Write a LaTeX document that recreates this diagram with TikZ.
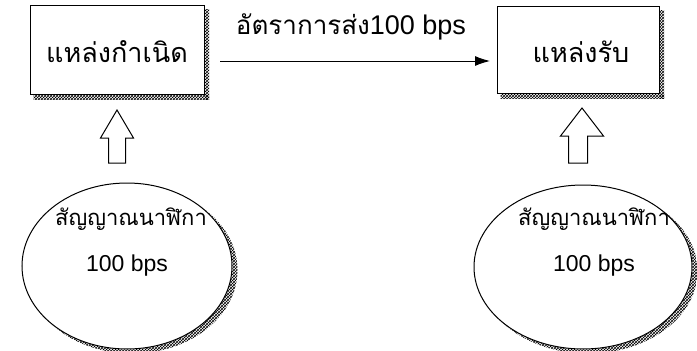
\documentclass[tikz,border=0pt]{standalone}
\usepackage{fontspec}
\setmainfont{Liberation Sans}
\newfontfamily\thaifont[Script=Thai]{Loma}
\usetikzlibrary{arrows.meta,shapes.geometric,patterns}
\begin{document}
\begin{tikzpicture}[x=1pt,y=-1pt,
  box/.style={draw,line width=1pt,fill=white,inner sep=0pt},
  oval/.style={draw,line width=1pt,fill=white,ellipse,inner sep=0pt},
  blk/.style={draw,line width=1pt,fill=white,line join=miter},
  shadowfill/.style={pattern=crosshatch,pattern color=black}]
\useasboundingbox (0,0) rectangle (697,351);
% boxes
\node[box,minimum width=174pt,minimum height=89pt] (src) at (117,50) {};
\node[box,minimum width=162pt,minimum height=87pt] (dst) at (578,50) {};
% box shadows (right and bottom strips)
\path[shadowfill] ([xshift=0.5pt,yshift=-4pt]src.north east) rectangle ([xshift=4.5pt,yshift=-4.5pt]src.south east);
\path[shadowfill] ([xshift=4pt,yshift=-0.5pt]src.south west) rectangle ([xshift=4.5pt,yshift=-4.5pt]src.south east);
\path[shadowfill] ([xshift=0.5pt,yshift=-4pt]dst.north east) rectangle ([xshift=4.5pt,yshift=-4.5pt]dst.south east);
\path[shadowfill] ([xshift=4pt,yshift=-0.5pt]dst.south west) rectangle ([xshift=4.5pt,yshift=-4.5pt]dst.south east);
\node[font=\thaifont\fontsize{27}{30}\selectfont] (srct) at (117,52) {แหล่งกำเนิด};
\node[font=\thaifont\fontsize{27}{30}\selectfont] (dstt) at (581,52) {แหล่งรับ};
% main arrow
\coordinate (a1) at (220,61);
\coordinate (a2) at (490,61);
\draw[line width=1pt,-{Latex[length=15pt,width=10pt]}] (a1) -- (a2);
\node[font=\thaifont\fontsize{26}{30}\selectfont] (rate) at (351,27) {อัตราการส่ง\fontspec{Liberation Sans}\fontsize{27}{30}\selectfont100 bps};
% ellipses
\node[oval,minimum width=210pt,minimum height=166pt] (clk1) at (127,266) {};
\node[oval,minimum width=218pt,minimum height=164pt] (clk2) at (583,267) {};
% ellipse shadows (crescent at lower right)
\begin{scope}
\clip (132,270) ellipse [x radius=105.5, y radius=83.5];
\path[shadowfill,even odd rule] (0,0) rectangle (697,351) (127,266) ellipse [x radius=105.5, y radius=83.5];
\end{scope}
\begin{scope}
\clip (588,271) ellipse [x radius=109.5, y radius=82.5];
\path[shadowfill,even odd rule] (0,0) rectangle (697,351) (583,267) ellipse [x radius=109.5, y radius=82.5];
\end{scope}
\node[font=\thaifont\fontsize{22}{26}\selectfont] (c1a) at (131,219) {สัญญาณนาฬิกา};
\node[font=\fontsize{23}{26}\selectfont] (c1b) at (127,266) {100 bps};
\node[font=\thaifont\fontsize{22}{26}\selectfont] (c2a) at (594,219) {สัญญาณนาฬิกา};
\node[font=\fontsize{23}{26}\selectfont] (c2b) at (594,266) {100 bps};
% block arrows
\draw[blk] (108.5,163) -- (108.5,138) -- (100.5,138) -- (117,110) -- (133.5,138) -- (125.5,138) -- (125.5,163) -- cycle;
\draw[blk] (568.5,163) -- (568.5,136) -- (560.5,136) -- (582,108) -- (603.5,136) -- (587.5,136) -- (587.5,163) -- cycle;
\end{tikzpicture}
\end{document}
